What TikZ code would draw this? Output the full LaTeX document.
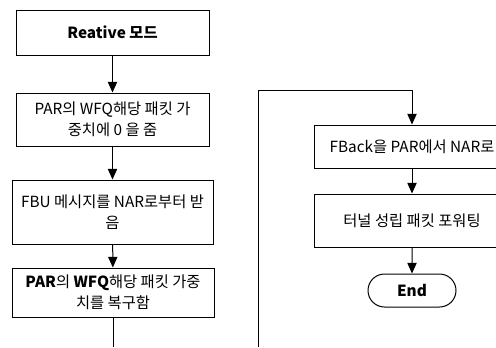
\documentclass[tikz,border=0pt]{standalone}
\usepackage{fontspec}
\setmainfont{Noto Sans CJK KR}
\usetikzlibrary{arrows.meta,shapes.misc}

\begin{document}
\begin{tikzpicture}[x=0.75pt,y=-0.75pt,
    font=\fontsize{11.5}{15.5}\selectfont,
    box/.style={draw, line width=0.75pt, inner sep=0pt, align=center},
    arr/.style={line width=0.75pt, -{Triangle[length=8pt,width=7pt]}},
    lin/.style={line width=0.75pt}]
    \useasboundingbox (0,0) rectangle (496,347);

    \node[box, minimum width=144.75pt, minimum height=33.75pt] (reative) at (112.5, 32.5) {\bfseries Reative 모드};
    \node[box, minimum width=144.75pt, minimum height=39.75pt] (zero) at (112.5, 119.5) {PAR의 WFQ해당 패킷 가\\중치에 0 을 줌};
    \node[box, minimum width=150.75pt, minimum height=48pt] (fbu) at (112.5, 212) {FBU 메시지를 NAR로부터 받\\음};
    \node[box, minimum width=151.5pt, minimum height=36.75pt] (restore) at (113, 292.5) {\textbf{PAR}의 \textbf{WFQ}해당 패킷 가중\\치를 복구함};

    \node[box, minimum width=147pt, minimum height=32.25pt] (fback) at (412, 146.5) {FBack을 PAR에서 NAR로};
    \node[box, minimum width=147pt, minimum height=39.75pt] (tunnel) at (412, 220.5) {터널 성립 패킷 포워팅};
    \node[box, rounded rectangle, minimum width=66pt, minimum height=24.75pt] (end) at (412, 290.5) {\bfseries End};

    \coordinate (leftout) at (113, 347);
    \coordinate (rightin) at (258, 347);

    \draw[arr] (reative) -- (zero);
    \draw[arr] (zero) -- (fbu);
    \draw[arr] (fbu) -- (restore);
    \draw[lin] (restore) -- (leftout);
    \draw[arr] (rightin) |- (412, 90) -- (fback);
    \draw[arr] (fback) -- (tunnel);
    \draw[arr] (tunnel) -- (end);
\end{tikzpicture}
\end{document}
